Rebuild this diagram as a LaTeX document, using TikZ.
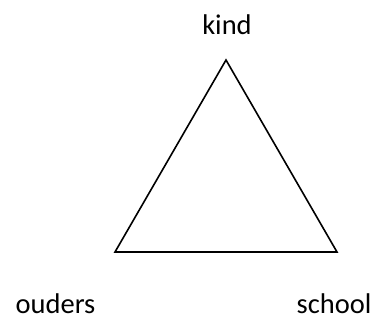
\documentclass[tikz,border=0pt]{standalone}
\usepackage{fontspec}
\setmainfont{Carlito}
\usetikzlibrary{positioning}

\begin{document}
\begin{tikzpicture}[x=1pt, y=-1pt, every node/.style={font=\fontsize{28.5}{33}\selectfont, inner sep=0pt, anchor=base, text depth=0pt}]
	\useasboundingbox (0,0) rectangle (374,320);
	\coordinate (top) at (226,60);
	\coordinate (left) at (115,252);
	\coordinate (right) at (337,252);
	\draw[line width=1.6pt, line join=miter] (top) -- (left) -- (right) -- cycle;
	\node (kind) at (227,35) {kind};
	\node (ouders) at (55.5,313.5) {ouders};
	\node (school) at (334,313.5) {school};
\end{tikzpicture}
\end{document}
